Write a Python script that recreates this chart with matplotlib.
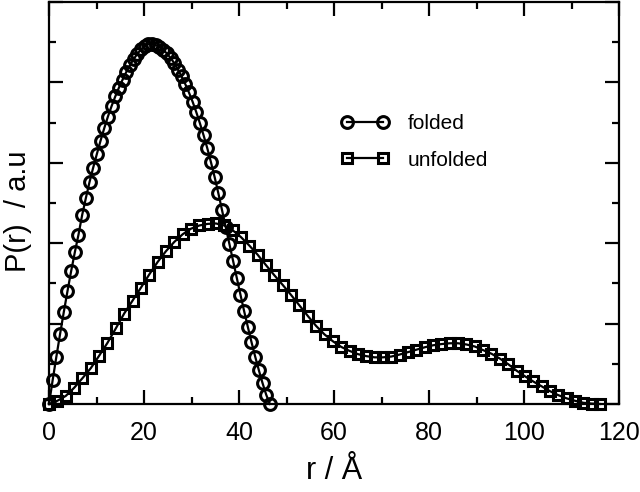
import matplotlib
matplotlib.use("Agg")
import matplotlib.pyplot as plt
from matplotlib.ticker import MultipleLocator, NullFormatter

plt.rcParams['font.family'] = ['Liberation Sans', 'DejaVu Sans']

# folded P(r)
r_folded = [0.0, 0.775, 1.55, 2.325, 3.1, 3.875, 4.65, 5.425, 6.2, 6.975,
            7.75, 8.525, 9.3, 10.075, 10.85, 11.625, 12.4, 13.175, 13.95, 14.725,
            15.5, 16.275, 17.05, 17.825, 18.6, 19.375, 20.15, 20.925, 21.7, 22.475,
            23.25, 24.025, 24.8, 25.575, 26.35, 27.125, 27.9, 28.675, 29.45, 30.225,
            31.0, 31.775, 32.55, 33.325, 34.1, 34.875, 35.65, 36.425, 37.2, 37.975,
            38.75, 39.525, 40.3, 41.075, 41.85, 42.625, 43.4, 44.175, 44.95, 45.725,
            46.5]
p_folded = [0.000, 0.060, 0.118, 0.174, 0.228, 0.280, 0.330, 0.377, 0.421, 0.470,
            0.512, 0.552, 0.588, 0.622, 0.655, 0.686, 0.715, 0.741, 0.765, 0.787,
            0.807, 0.826, 0.843, 0.858, 0.871, 0.882, 0.890, 0.895, 0.896, 0.893,
            0.888, 0.881, 0.872, 0.861, 0.848, 0.832, 0.815, 0.796, 0.775, 0.752,
            0.726, 0.698, 0.668, 0.636, 0.601, 0.564, 0.524, 0.482, 0.440, 0.398,
            0.356, 0.314, 0.272, 0.231, 0.192, 0.154, 0.118, 0.084, 0.052, 0.023,
            0.000]

# unfolded P(r)
r_unfolded = [0.0, 1.76, 3.52, 5.27, 7.03, 8.79, 10.55, 12.3, 14.06, 15.82,
              17.58, 19.33, 21.09, 22.85, 24.61, 26.36, 28.12, 29.88, 31.64, 33.39,
              35.15, 36.91, 38.67, 40.42, 42.18, 43.94, 45.7, 47.45, 49.21, 50.97,
              52.73, 54.48, 56.24, 58.0, 59.76, 61.52, 63.27, 65.03, 66.79, 68.55,
              70.3, 72.06, 73.82, 75.58, 77.33, 79.09, 80.85, 82.61, 84.36, 86.12,
              87.88, 89.64, 91.39, 93.15, 94.91, 96.67, 98.42, 100.18, 101.94, 103.7,
              105.45, 107.21, 108.97, 110.73, 112.48, 114.24, 116.0]
p_unfolded = [0.000, 0.008, 0.020, 0.040, 0.064, 0.089, 0.120, 0.152, 0.188, 0.225,
              0.257, 0.289, 0.322, 0.353, 0.380, 0.403, 0.422, 0.436, 0.444, 0.448,
              0.449, 0.444, 0.432, 0.415, 0.394, 0.371, 0.345, 0.320, 0.296, 0.271,
              0.245, 0.219, 0.194, 0.173, 0.156, 0.142, 0.132, 0.124, 0.119, 0.116,
              0.116, 0.118, 0.123, 0.129, 0.135, 0.141, 0.146, 0.149, 0.151, 0.151,
              0.148, 0.143, 0.134, 0.125, 0.113, 0.099, 0.083, 0.069, 0.056, 0.044,
              0.032, 0.022, 0.014, 0.008, 0.003, 0.001, 0.000]

fig = plt.figure(figsize=(6.4, 4.92), dpi=100)
ax = fig.add_axes([0.0766, 0.1789, 0.8906, 0.8171])

ax.plot(r_folded, p_folded, color='black', lw=1.6, marker='o', ms=8.5,
        mfc='none', mec='black', mew=2.2, label='folded', clip_on=False)
ax.plot(r_unfolded, p_unfolded, color='black', lw=1.6, marker='s', ms=7,
        mfc='none', mec='black', mew=2.2, label='unfolded', clip_on=False)

ax.set_xlim(0, 120)
ax.set_ylim(0, 1.0)
ax.xaxis.set_major_locator(MultipleLocator(20))
ax.xaxis.set_minor_locator(MultipleLocator(10))
ax.yaxis.set_major_locator(MultipleLocator(0.2))
ax.yaxis.set_minor_locator(MultipleLocator(0.1))
ax.yaxis.set_major_formatter(NullFormatter())
ax.tick_params(which='both', direction='in', top=True, right=True, width=1.6)
ax.tick_params(which='major', length=10, labelsize=18, pad=12)
ax.tick_params(which='minor', length=5)
for s in ax.spines.values():
    s.set_linewidth(1.6)

ax.set_xlabel('r / Å', fontsize=22)
ax.xaxis.set_label_coords(0.5, -0.13)
ax.set_ylabel('P(r)  / a.u', fontsize=21)
ax.yaxis.set_label_coords(-0.03, 0.48)

ax.legend(loc='upper left', bbox_to_anchor=(341 / 640, 1 - 114 / 492),
          bbox_transform=fig.transFigure, frameon=False, fontsize=15,
          numpoints=2, handlelength=2.3, handletextpad=0.9,
          labelspacing=0.85, borderpad=0, borderaxespad=0)

fig.savefig('out.png', dpi=100)
